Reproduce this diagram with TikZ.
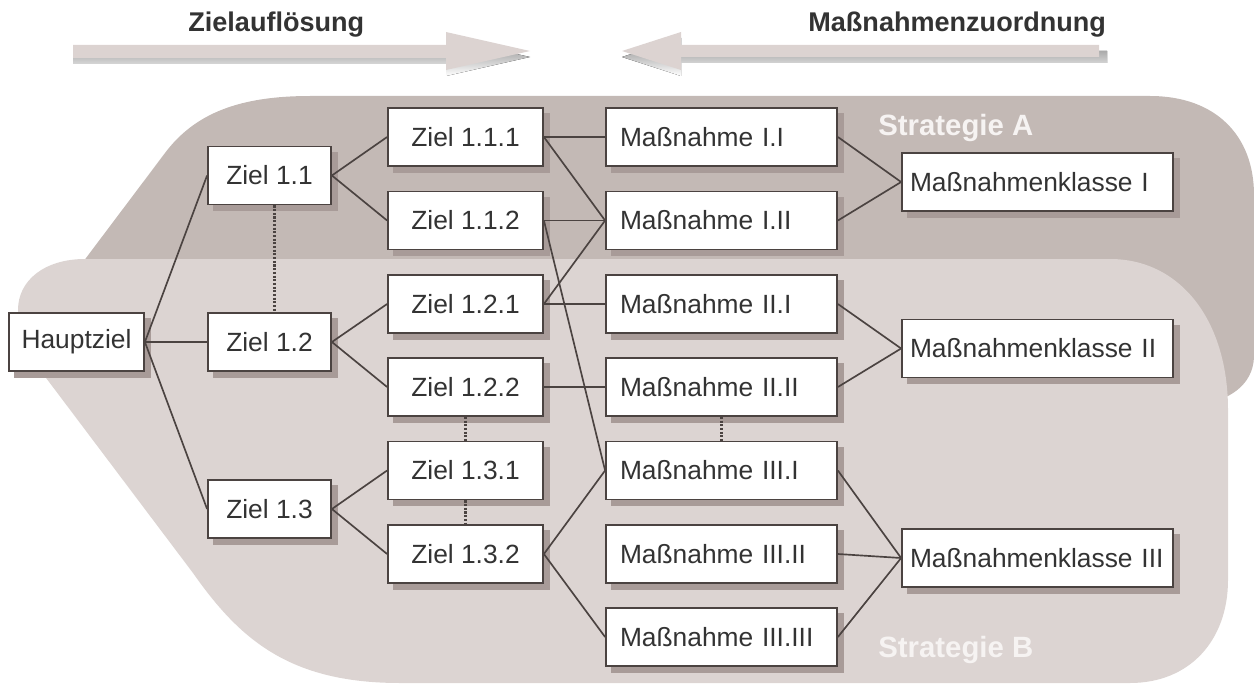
\documentclass[tikz,border=0pt]{standalone}
\usepackage{fontspec}
\setmainfont{Liberation Sans}
\usetikzlibrary{shadows}
\definecolor{stratA}{HTML}{C3B9B5}
\definecolor{stratB}{HTML}{DCD4D2}
\definecolor{arrowlight}{HTML}{DCD3D1}
\definecolor{shade}{HTML}{A89B98}
\definecolor{edgec}{HTML}{4B4341}
\definecolor{textc}{HTML}{333333}
\definecolor{strattext}{HTML}{F6F3F2}
\tikzset{
  box/.style={draw=edgec, line width=1.05pt, fill=white, inner sep=0pt,
    minimum height=1.16cm, text=textc, font=\fontsize{15}{18}\selectfont,
    drop shadow={shadow xshift=0.12cm, shadow yshift=-0.12cm, fill=shade, draw=shade, opacity=1}},
  hbox/.style={box, minimum width=2.7cm},
  zbox/.style={box, minimum width=2.46cm},
  zzbox/.style={box, minimum width=3.1cm},
  mbox/.style={box, align=left, text width=4.06cm, inner xsep=0.28cm},
  kbox/.style={box, align=left, text width=5.1cm, inner xsep=0.16cm},
  conn/.style={draw=edgec, line width=0.95pt},
  dots/.style={draw=edgec, line width=1.2pt, dash pattern=on 1.2pt off 0.9pt},
  hdr/.style={text=textc, font=\fontsize{15.4}{18}\selectfont\bfseries, inner sep=0pt},
  strat/.style={text=strattext, font=\fontsize{16.7}{20}\selectfont\bfseries, inner sep=0pt},
}
\begin{document}
\begin{tikzpicture}[x=0.02cm, y=-0.02cm]
\useasboundingbox (0,0) rectangle (1254,686);

% strategy areas (A lies partly under B)
\fill[stratA] (83,262) -- (165,153) .. controls (195,113) and (240,96) .. (310,96)
  -- (1150,96) .. controls (1215,96) and (1254,135) .. (1254,195)
  -- (1254,355) .. controls (1254,375) and (1243,388) .. (1228,396)
  -- (1100,402) -- (100,302) -- cycle;
\fill[stratB] (18,310) .. controls (18,280) and (45,259) .. (85,259)
  -- (1110,259) .. controls (1180,259) and (1228,320) .. (1228,410)
  -- (1228,580) .. controls (1228,640) and (1190,683) .. (1130,683)
  -- (400,683) .. controls (290,683) and (240,640) .. (193,573)
  -- (25,350) .. controls (20,344) and (18,340) .. (18,333) -- cycle;

% direction arrows
\fill[shade] (73,51) -- (446,51) -- (446,38) -- (530,57) -- (446,76) -- (446,64) -- (73,64) -- cycle;
\fill[arrowlight] (73,45) -- (446,45) -- (446,32) -- (530,51) -- (446,70) -- (446,58) -- (73,58) -- cycle;
\fill[shade] (1107,51) -- (681,51) -- (681,38) -- (622,57) -- (681,76) -- (681,63) -- (1107,63) -- cycle;
\fill[arrowlight] (1099,45) -- (681,45) -- (681,32) -- (622,51) -- (681,70) -- (681,57) -- (1099,57) -- cycle;

\node[hdr, anchor=base west] (hleft) at (188,32) {Zielauflösung};
\node[hdr, anchor=base west] (hright) at (808,32) {Maßnahmenzuordnung};
\node[strat, anchor=base west] (sa) at (878,135) {Strategie A};
\node[strat, anchor=base west] (sb) at (878,657) {Strategie B};

% goal hierarchy
\node[hbox] (hz) at (76.5,342) {Hauptziel};
\node[zbox] (z11) at (269.5,175.5) {Ziel 1.1};
\node[zbox] (z12) at (269.5,342) {Ziel 1.2};
\node[zbox] (z13) at (269.5,509) {Ziel 1.3};
\node[zzbox] (z111) at (465.5,137) {Ziel 1.1.1};
\node[zzbox] (z112) at (465.5,220.5) {Ziel 1.1.2};
\node[zzbox] (z121) at (465.5,304) {Ziel 1.2.1};
\node[zzbox] (z122) at (465.5,387) {Ziel 1.2.2};
\node[zzbox] (z131) at (465.5,470.5) {Ziel 1.3.1};
\node[zzbox] (z132) at (465.5,554) {Ziel 1.3.2};

% measures
\node[mbox] (m11) at (721.5,137) {Maßnahme I.I};
\node[mbox] (m12) at (721.5,220.5) {Maßnahme I.II};
\node[mbox] (m21) at (721.5,304) {Maßnahme II.I};
\node[mbox] (m22) at (721.5,387) {Maßnahme II.II};
\node[mbox] (m31) at (721.5,470.5) {Maßnahme III.I};
\node[mbox] (m32) at (721.5,554) {Maßnahme III.II};
\node[mbox] (m33) at (721.5,637) {Maßnahme III.III};

% measure classes
\node[kbox] (k1) at (1037.5,182) {Maßnahmenklasse I};
\node[kbox] (k2) at (1037.5,348.5) {Maßnahmenklasse II};
\node[kbox] (k3) at (1037.5,558) {Maßnahmenklasse III};

% connectors
\draw[conn] (hz.east) -- (z11.west);
\draw[conn] (hz.east) -- (z12.west);
\draw[conn] (hz.east) -- (z13.west);
\draw[conn] (z11.east) -- (z111.west);
\draw[conn] (z11.east) -- (z112.west);
\draw[conn] (z12.east) -- (z121.west);
\draw[conn] (z12.east) -- (z122.west);
\draw[conn] (z13.east) -- (z131.west);
\draw[conn] (z13.east) -- (z132.west);
\draw[conn] (z111.east) -- (m11.west);
\draw[conn] (z111.east) -- (m12.west);
\draw[conn] (z112.east) -- (m12.west);
\draw[conn] (z112.east) -- (m31.west);
\draw[conn] (z121.east) -- (m12.west);
\draw[conn] (z121.east) -- (m21.west);
\draw[conn] (z122.east) -- (m22.west);
\draw[conn] (z132.east) -- (m31.west);
\draw[conn] (z132.east) -- (m33.west);
\draw[conn] (m11.east) -- (k1.west);
\draw[conn] (m12.east) -- (k1.west);
\draw[conn] (m21.east) -- (k2.west);
\draw[conn] (m22.east) -- (k2.west);
\draw[conn] (m31.east) -- (k3.west);
\draw[conn] (m32.east) -- (k3.west);
\draw[conn] (m33.east) -- (k3.west);

% omitted intermediate elements
\draw[dots] ([xshift=0.1cm]z11.south) -- ([xshift=0.1cm]z12.north);
\draw[dots] (z122.south) -- (z131.north);
\draw[dots] (z131.south) -- (z132.north);
\draw[dots] (m22.south) -- (m31.north);
\end{tikzpicture}
\end{document}
